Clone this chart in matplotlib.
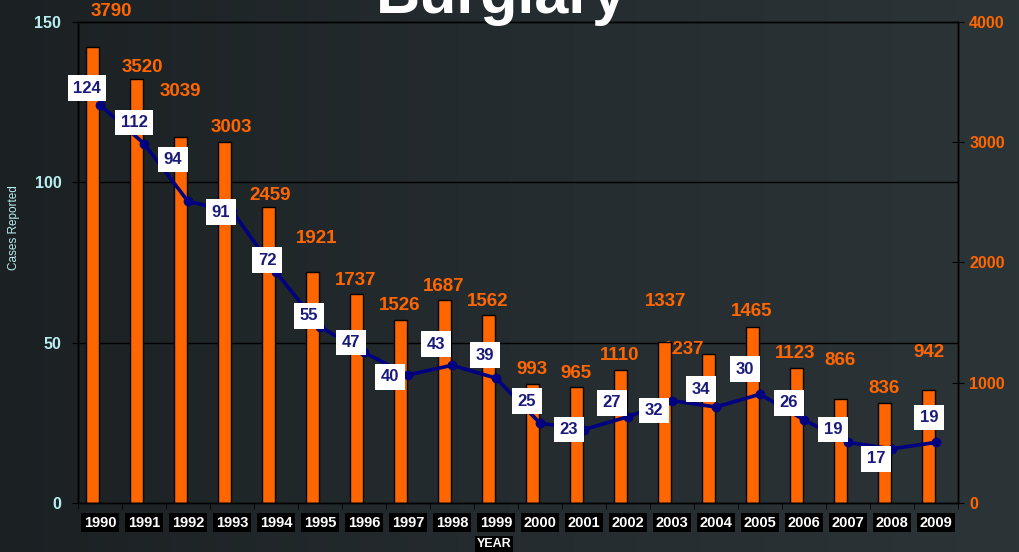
import numpy as np
import matplotlib
matplotlib.use("Agg")
import matplotlib.pyplot as plt
from matplotlib.transforms import blended_transform_factory

years = [str(y) for y in range(1990, 2010)]
cases = [3790, 3520, 3039, 3003, 2459, 1921, 1737, 1526, 1687, 1562,
         993, 965, 1110, 1337, 1237, 1465, 1123, 866, 836, 942]
rate = [124, 112, 94, 91, 72, 55, 47, 40, 43, 39,
        25, 23, 27, 32, 30, 34, 26, 19, 17, 19]
rate_labels = ["124", "112", "94", "91", "72", "55", "47", "40", "43", "39",
               "25", "23", "27", "32", "34", "30", "26", "19", "17", "19"]

# label offsets in pixels (dx, dy) from bar top / line point
case_offsets = [(19, 35), (6, 12), (0, 46), (7, 14), (2, 12), (4, 33), (-1, 14),
                (-1, 14), (-1, 14), (-1, 14), (-1, 14), (-1, 14), (-1, 14),
                (1, 41), (-25, 5), (-1, 15), (-1, 15), (-1, 39), (-1, 14), (0, 37)]
rate_offsets = [(-13, 17), (-10, 21), (-15, 42), (-11, -1), (-9, 12), (-11, 11),
                (-13, 10), (-18, -2), (-16, 21), (-11, 23), (-13, 22), (-15, 0),
                (-16, 14), (-18, -10), (-15, 18), (-15, 25), (-15, 17), (-15, 13),
                (-16, -10), (-7, 25)]

orange = "#ff6600"
navy = "#000080"
cyan = "#b8eef2"
font = ["Liberation Sans", "DejaVu Sans"]
plt.rcParams["font.family"] = font

fig = plt.figure(figsize=(10.2, 5.52), dpi=100)
fig.patch.set_facecolor("#22292c")

# dark gradient background
bg = fig.add_axes([0, 0, 1, 1], zorder=-10)
grad = np.linspace(0, 1, 256).reshape(1, -1)
cmap = matplotlib.colors.LinearSegmentedColormap.from_list("bg", ["#1b2123", "#252c2f", "#2b3437"])
bg.imshow(grad, aspect="auto", cmap=cmap, extent=[0, 1, 0, 1])
bg.axis("off")

ax = fig.add_axes([0.0765, 0.088, 0.8627, 0.873])
ax.set_facecolor("none")
ax2 = ax.twinx()
ax.yaxis.tick_right()
ax2.yaxis.tick_left()

x = np.arange(len(years))
ax.set_xlim(-0.5, len(years) - 0.5)
ax.set_ylim(0, 4000)
ax2.set_ylim(0, 150)

# grid lines from left scale, behind the bars
trans = blended_transform_factory(ax.transAxes, ax2.transData)
for v in [50, 100]:
    ax.plot([0, 1], [v, v], transform=trans, color="black", lw=1, zorder=0.5)

bar_x = x - 0.17
ax.bar(bar_x, cases, width=0.31, color=orange, edgecolor="black", linewidth=1, zorder=2)
for bx, v, (dx, dy) in zip(bar_x, cases, case_offsets):
    ax.annotate(str(v), (bx, v), xytext=(dx, dy), textcoords="offset pixels",
                ha="center", va="center", color=orange, fontsize=13.5,
                fontweight="bold", zorder=1)

ax2.plot(x, rate, color=navy, lw=2.6, marker="o", ms=6, zorder=3)
for px, v, lab, (dx, dy) in zip(x, rate, rate_labels, rate_offsets):
    ax2.annotate(lab, (px, v), xytext=(dx, dy), textcoords="offset pixels",
                 ha="center", va="center", color="#1a1a7a", fontsize=12,
                 fontweight="bold", zorder=4,
                 bbox=dict(boxstyle="square,pad=0.32", fc="white", ec="none"))

# axes styling
for a in (ax, ax2):
    for s in a.spines.values():
        s.set_color("black")
        s.set_linewidth(1)

ax.set_yticks([0, 1000, 2000, 3000, 4000])
ax.tick_params(axis="y", direction="inout", length=8, color="black",
               labelcolor=orange, labelsize=11.5, pad=4)
for t in ax.get_yticklabels():
    t.set_fontweight("bold")

ax2.set_yticks([0, 50, 100, 150])
ax2.tick_params(axis="y", direction="out", length=4, color="black",
                labelcolor=cyan, labelsize=11.5, pad=8)
for t in ax2.get_yticklabels():
    t.set_fontweight("bold")

ax.set_xticks(x)
ax.set_xticklabels(years)
ax.set_xticks(np.arange(-0.5, len(years)), minor=True)
ax.tick_params(axis="x", which="major", length=0, pad=9, labelcolor="white", labelsize=10.5)
ax.tick_params(axis="x", which="minor", direction="out", length=4, color="black")
for t in ax.get_xticklabels():
    t.set_fontweight("bold")
    t.set_bbox(dict(fc="black", ec="none", pad=1.8))

fig.text(0.014, 1 - 228 / 552, "Cases Reported", rotation=90, ha="center", va="center",
         color=cyan, fontsize=8.5)
fig.text(494 / 1020, 1 - 544 / 552, "YEAR", ha="center", va="center", color="white",
         fontsize=9, fontweight="bold", bbox=dict(fc="black", ec="none", pad=1.5))
fig.text(0.492, 1 - 13 / 552, "Burglary", ha="center", va="baseline", color="white",
         fontsize=44, fontweight="bold")

fig.savefig("out.png", dpi=100, facecolor=fig.get_facecolor())
